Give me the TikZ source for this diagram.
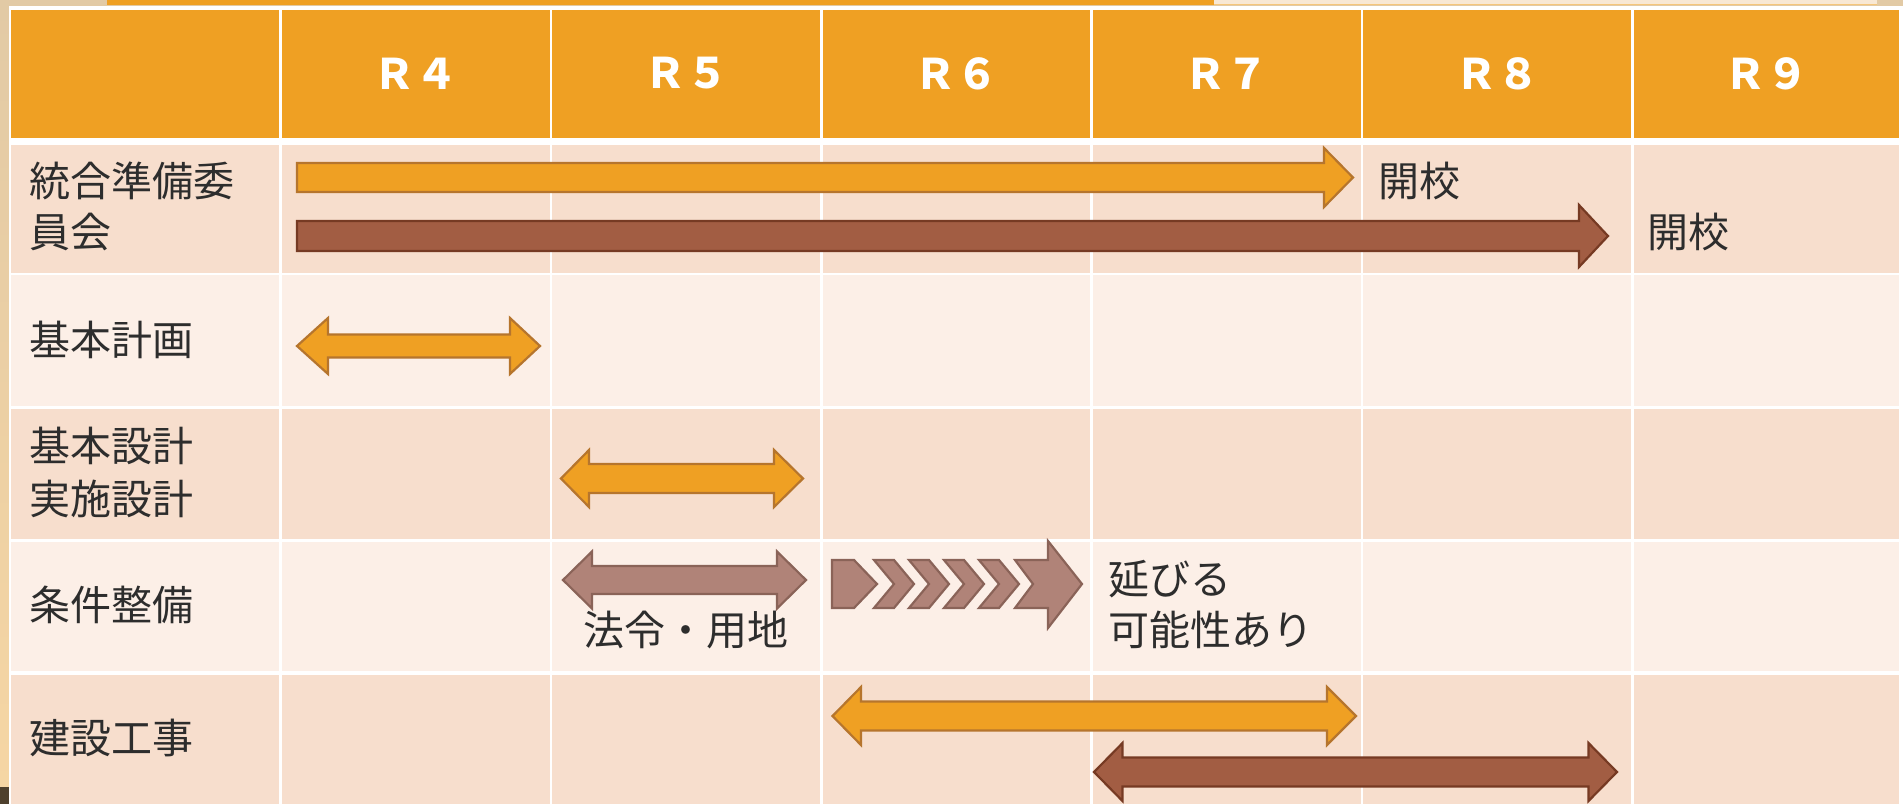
\documentclass[tikz,border=0pt]{standalone}
\usepackage{fontspec}
\setmainfont{Noto Sans CJK JP}
\definecolor{hdr}{RGB}{239,160,35}
\definecolor{rowA}{RGB}{247,222,205}
\definecolor{rowB}{RGB}{252,239,231}
\definecolor{txt}{RGB}{45,45,45}
\definecolor{orF}{RGB}{239,160,35}
\definecolor{orD}{RGB}{182,117,45}
\definecolor{brF}{RGB}{162,93,67}
\definecolor{brD}{RGB}{118,58,35}
\definecolor{pkF}{RGB}{176,131,120}
\definecolor{pkD}{RGB}{138,99,88}
\definecolor{tanA}{RGB}{226,202,165}
\definecolor{tanB}{RGB}{246,214,164}
\definecolor{creamS}{RGB}{248,232,212}
\definecolor{darkS}{RGB}{78,64,45}
\newcommand{\dblarr}[8]{% style, left tip, left base, right base, right tip, cy, h, H
  \draw[#1] (#2,#6) -- (#3,{#6-#8}) -- (#3,{#6-#7}) -- (#4,{#6-#7}) -- (#4,{#6-#8}) -- (#5,#6)
    -- (#4,{#6+#8}) -- (#4,{#6+#7}) -- (#3,{#6+#7}) -- (#3,{#6+#8}) -- cycle;}
\begin{document}
\begin{tikzpicture}[x=0.5pt,y=-0.5pt,
  lbl/.style={font=\fontsize{20.5}{25.5}\selectfont, text=txt, inner sep=0pt, align=left, anchor=west},
  hd/.style={font=\bfseries\fontsize{21}{21}\selectfont, text=white, inner sep=0pt},
  oarr/.style={fill=orF, draw=orD, line width=1.1pt, line join=miter},
  barr/.style={fill=brF, draw=brD, line width=1.1pt, line join=miter},
  parr/.style={fill=pkF, draw=pkD, line width=1.1pt, line join=miter},
  sep/.style={white, line width=1.25pt}]
\useasboundingbox (0,0) rectangle (1903,804);
% page background
\fill[tanA] (0,0) rectangle (1903,8);
\shade[top color=tanA, bottom color=tanB] (0,0) rectangle (10,804);
\fill[orF] (107,0) rectangle (1214,5);
\fill[creamS] (1214,0) rectangle (1877,4.5);
\draw[orF!60, line width=0.5pt] (1214,4.5) -- (1877,4.5);
\fill[darkS] (0,787) rectangle (9.5,804);
% table
\fill[white] (9,5.8) rectangle (1903,804);
\fill[hdr]  (10.5,9.5)   rectangle (1899,138);
\fill[rowA] (10.5,145)   rectangle (1899,272.5);
\fill[rowB] (10.5,275)   rectangle (1899,405.5);
\fill[rowA] (10.5,408.5) rectangle (1899,538.5);
\fill[rowB] (10.5,541.5) rectangle (1899,671);
\fill[rowA] (10.5,674.5) rectangle (1899,804);
\foreach \cx in {280.3,551,821.6,1091.5,1362,1632.5}
  \draw[sep] (\cx,8) -- (\cx,804);
% header
\node[hd] (h4) at (415.7,73.5) {Ｒ４};
\node[hd] (h5) at (686.3,73.5) {Ｒ５};
\node[hd] (h6) at (956.5,73.5) {Ｒ６};
\node[hd] (h7) at (1226.8,73.5) {Ｒ７};
\node[hd] (h8) at (1497,73.5) {Ｒ８};
\node[hd] (h9) at (1766,73.5) {Ｒ９};
% row labels
\node[lbl] (l1) at (29,206) {統合準備委\\員会};
\node[lbl] (l2) at (29,340) {基本計画};
\node[lbl, font=\fontsize{20.5}{26.5}\selectfont] (l3) at (29,472) {基本設計\\実施設計};
\node[lbl] (l4) at (29,605) {条件整備};
\node[lbl] (l5) at (29,738) {建設工事};
% row 1 arrows
\draw[oarr] (297,163) -- (1324,163) -- (1324,148) -- (1353,177.5) -- (1324,207) -- (1324,192) -- (297,192) -- cycle;
\draw[barr] (297,221) -- (1579,221) -- (1579,205) -- (1608,236) -- (1579,267) -- (1579,251) -- (297,251) -- cycle;
\node[lbl] (k1) at (1378,180.5) {開校};
\node[lbl] (k2) at (1647,231.5) {開校};
% row 2
\dblarr{oarr}{297}{328}{510}{540}{346}{11.5}{28}
% row 3
\dblarr{oarr}{561}{589}{774}{803}{478.5}{14.5}{28.5}
% row 4
\dblarr{parr}{563}{592}{777}{806}{580}{14}{28.5}
\node[lbl, anchor=center] (hor) at (685.5,630.5) {法令・用地};
\draw[parr] (832,560) -- (854,560) -- (877,584) -- (854,608) -- (832,608) -- cycle;
\foreach \a in {874,909,944,979}
  \draw[parr] (\a,560) -- ({\a+20},560) -- ({\a+40},584) -- ({\a+20},608) -- (\a,608) -- ({\a+20},584) -- cycle;
\draw[parr] (1015,560) -- (1048,560) -- (1048,541) -- (1082,584) -- (1048,628) -- (1048,608) -- (1015,608) -- (1033,584) -- cycle;
\node[lbl] (nob) at (1108,604.5) {延びる\\可能性あり};
% row 5
\dblarr{oarr}{832.5}{861}{1327}{1356}{716}{14.5}{29}
\dblarr{barr}{1094}{1122.5}{1588.5}{1617}{772}{14.5}{29}
\end{tikzpicture}
\end{document}
